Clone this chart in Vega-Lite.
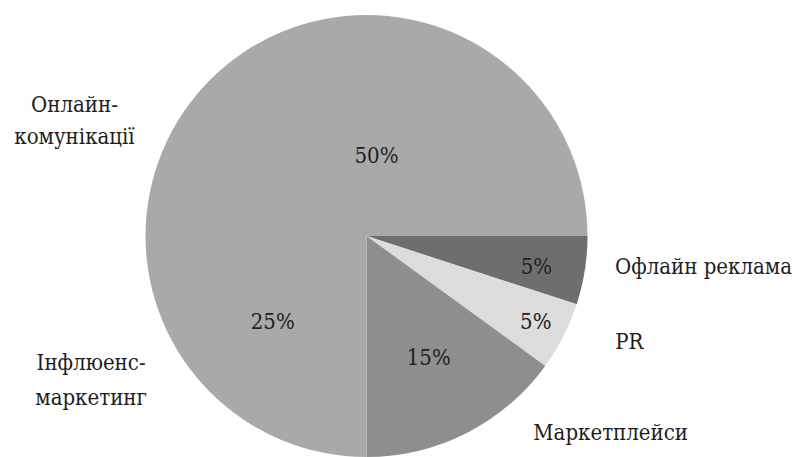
{
  "$schema": "https://vega.github.io/schema/vega-lite/v6.json",
  "width": 733,
  "height": 472,
  "padding": {"left": 0, "top": 0, "right": 65, "bottom": 0},
  "autosize": "none",
  "background": "white",
  "config": {"view": {"stroke": null}, "font": "DejaVu Serif Condensed, DejaVu Serif"},
  "data": {
    "values": [
      {"idx": 1, "label": "Офлайн реклама", "name": "Офлайн реклама", "value": 5, "pct": "5%"},
      {"idx": 2, "label": "PR", "name": "PR", "value": 5, "pct": "5%"},
      {"idx": 3, "label": "Маркетплейси", "name": "Маркетплейси", "value": 15, "pct": "15%"},
      {"idx": 4, "label": "Інфлюенс-маркетинг", "name": "Інфлюенс-\nмаркетинг", "value": 25, "pct": "25%"},
      {"idx": 5, "label": "Онлайн-комунікації", "name": "Онлайн-\nкомунікації", "value": 50, "pct": "50%"}
    ]
  },
  "encoding": {
    "theta": {"field": "value", "type": "quantitative", "stack": true, "scale": {"range": [1.5707963, 7.8539816]}},
    "order": {"field": "idx", "type": "quantitative"}
  },
  "layer": [
    {
      "mark": {"type": "arc", "outerRadius": 221},
      "encoding": {
        "color": {
          "field": "label", "type": "nominal", "legend": null,
          "scale": {
            "domain": ["Офлайн реклама", "PR", "Маркетплейси", "Інфлюенс-маркетинг", "Онлайн-комунікації"],
            "range": ["#6e6e6e", "#dcdcdc", "#8e8e8e", "#a9a9a9", "#a9a9a9"]
          }
        }
      }
    },
    {
      "mark": {"type": "text", "radius": 80, "dx": 10, "font": "DejaVu Serif Condensed, DejaVu Serif", "fontSize": 22, "color": "#1e1e1e", "baseline": "middle", "align": "center"},
      "encoding": {"text": {"condition": {"test": "datum.idx === 5", "field": "pct"}, "value": ""}}
    },
    {
      "mark": {"type": "text", "radius": 127, "dx": -4, "dy": -4, "font": "DejaVu Serif Condensed, DejaVu Serif", "fontSize": 22, "color": "#1e1e1e", "baseline": "middle", "align": "center"},
      "encoding": {"text": {"condition": {"test": "datum.idx === 4", "field": "pct"}, "value": ""}}
    },
    {
      "mark": {"type": "text", "radius": 137, "font": "DejaVu Serif Condensed, DejaVu Serif", "fontSize": 22, "color": "#1e1e1e", "baseline": "middle", "align": "center"},
      "encoding": {"text": {"condition": {"test": "datum.idx === 3", "field": "pct"}, "value": ""}}
    },
    {
      "mark": {"type": "text", "radius": 172, "dy": 4, "font": "DejaVu Serif Condensed, DejaVu Serif", "fontSize": 22, "color": "#1e1e1e", "baseline": "middle", "align": "center"},
      "encoding": {"text": {"condition": {"test": "datum.idx === 1", "field": "pct"}, "value": ""}}
    },
    {
      "mark": {"type": "text", "radius": 190, "font": "DejaVu Serif Condensed, DejaVu Serif", "fontSize": 22, "color": "#1e1e1e", "baseline": "middle", "align": "center"},
      "encoding": {"text": {"condition": {"test": "datum.idx === 2", "field": "pct"}, "value": ""}}
    },
    {
      "mark": {"type": "text", "radius": 115, "dx": -292, "dy": -16, "font": "DejaVu Serif Condensed, DejaVu Serif", "fontSize": 22, "color": "#1e1e1e", "baseline": "middle", "align": "center", "lineBreak": "\n", "lineHeight": 32},
      "encoding": {"text": {"condition": {"test": "datum.idx === 5", "field": "name"}, "value": ""}}
    },
    {
      "mark": {"type": "text", "radius": 200, "dx": -134, "dy": -14, "font": "DejaVu Serif Condensed, DejaVu Serif", "fontSize": 22, "color": "#1e1e1e", "baseline": "middle", "align": "center", "lineBreak": "\n", "lineHeight": 35},
      "encoding": {"text": {"condition": {"test": "datum.idx === 4", "field": "name"}, "value": ""}}
    },
    {
      "mark": {"type": "text", "radius": 250, "dx": 1.5, "dy": -8, "font": "DejaVu Serif Condensed, DejaVu Serif", "fontSize": 22, "color": "#1e1e1e", "baseline": "middle", "align": "left"},
      "encoding": {"text": {"condition": {"test": "datum.idx === 1", "field": "name"}, "value": ""}}
    },
    {
      "mark": {"type": "text", "radius": 260, "dx": 17, "dy": -12, "font": "DejaVu Serif Condensed, DejaVu Serif", "fontSize": 22, "color": "#1e1e1e", "baseline": "middle", "align": "left"},
      "encoding": {"text": {"condition": {"test": "datum.idx === 2", "field": "name"}, "value": ""}}
    },
    {
      "mark": {"type": "text", "radius": 221, "dx": 66.5, "font": "DejaVu Serif Condensed, DejaVu Serif", "fontSize": 22, "color": "#1e1e1e", "baseline": "middle", "align": "left"},
      "encoding": {"text": {"condition": {"test": "datum.idx === 3", "field": "name"}, "value": ""}}
    }
  ]
}
